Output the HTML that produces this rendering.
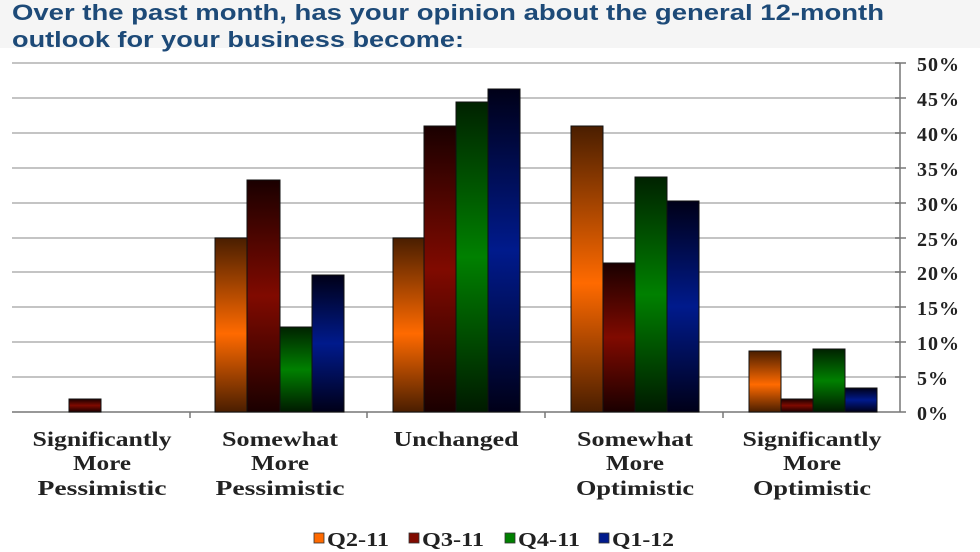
<!DOCTYPE html>
<html><head><meta charset="utf-8"><style>
html,body{margin:0;padding:0;background:#fff;}
svg{display:block;}
.t{font-family:"Liberation Sans",Arial,sans-serif;font-weight:bold;font-size:22px;fill:#1d4a78;}
.s{font-family:"Liberation Serif","DejaVu Serif",serif;font-weight:bold;fill:#222;}
</style></head><body>
<svg width="980" height="552" viewBox="0 0 980 552">
<defs>
<linearGradient id="go" x1="0" y1="0" x2="0" y2="1"><stop offset="0" stop-color="#4a1e00"/><stop offset="0.55" stop-color="#ff6a00"/><stop offset="1" stop-color="#4a1e00"/></linearGradient>
<linearGradient id="gr" x1="0" y1="0" x2="0" y2="1"><stop offset="0" stop-color="#1a0000"/><stop offset="0.5" stop-color="#800a00"/><stop offset="1" stop-color="#1a0000"/></linearGradient>
<linearGradient id="gg" x1="0" y1="0" x2="0" y2="1"><stop offset="0" stop-color="#002200"/><stop offset="0.5" stop-color="#008000"/><stop offset="1" stop-color="#001a00"/></linearGradient>
<linearGradient id="gb" x1="0" y1="0" x2="0" y2="1"><stop offset="0" stop-color="#000018"/><stop offset="0.5" stop-color="#001a8c"/><stop offset="1" stop-color="#000018"/></linearGradient>
</defs>
<rect x="0" y="0" width="980" height="48" fill="#f5f5f5"/>
<text class="t" x="12" y="20" textLength="872" lengthAdjust="spacingAndGlyphs">Over the past month, has your opinion about the general 12-month</text>
<text class="t" x="12" y="47" textLength="452" lengthAdjust="spacingAndGlyphs">outlook for your business become:</text>
<g stroke="#c4c4c4" stroke-width="2">
<line x1="12" x2="900" y1="63" y2="63"/><line x1="12" x2="900" y1="98" y2="98"/><line x1="12" x2="900" y1="133" y2="133"/><line x1="12" x2="900" y1="168" y2="168"/><line x1="12" x2="900" y1="203" y2="203"/><line x1="12" x2="900" y1="238" y2="238"/><line x1="12" x2="900" y1="272" y2="272"/><line x1="12" x2="900" y1="307" y2="307"/><line x1="12" x2="900" y1="342" y2="342"/><line x1="12" x2="900" y1="377" y2="377"/>
</g>
<g stroke="#777" stroke-width="1.5">
<line x1="900" x2="900" y1="63" y2="412"/>
<line x1="12" x2="906" y1="412" y2="412"/>
<line x1="895" x2="906" y1="63" y2="63"/><line x1="895" x2="906" y1="98" y2="98"/><line x1="895" x2="906" y1="133" y2="133"/><line x1="895" x2="906" y1="168" y2="168"/><line x1="895" x2="906" y1="203" y2="203"/><line x1="895" x2="906" y1="238" y2="238"/><line x1="895" x2="906" y1="272" y2="272"/><line x1="895" x2="906" y1="307" y2="307"/><line x1="895" x2="906" y1="342" y2="342"/><line x1="895" x2="906" y1="377" y2="377"/>
<line x1="190" x2="190" y1="412" y2="418"/><line x1="367" x2="367" y1="412" y2="418"/><line x1="545" x2="545" y1="412" y2="418"/><line x1="723" x2="723" y1="412" y2="418"/>
</g>
<g stroke="#111" stroke-width="1">
<rect x="69" y="399" width="32" height="13" fill="url(#gr)"/>
<rect x="215" y="238" width="32" height="174" fill="url(#go)"/>
<rect x="247" y="180" width="33" height="232" fill="url(#gr)"/>
<rect x="280" y="327" width="32" height="85" fill="url(#gg)"/>
<rect x="312" y="275" width="32" height="137" fill="url(#gb)"/>
<rect x="393" y="238" width="31" height="174" fill="url(#go)"/>
<rect x="424" y="126" width="32" height="286" fill="url(#gr)"/>
<rect x="456" y="102" width="32" height="310" fill="url(#gg)"/>
<rect x="488" y="89" width="32" height="323" fill="url(#gb)"/>
<rect x="571" y="126" width="32" height="286" fill="url(#go)"/>
<rect x="603" y="263" width="32" height="149" fill="url(#gr)"/>
<rect x="635" y="177" width="32" height="235" fill="url(#gg)"/>
<rect x="667" y="201" width="32" height="211" fill="url(#gb)"/>
<rect x="749" y="351" width="32" height="61" fill="url(#go)"/>
<rect x="781" y="399" width="32" height="13" fill="url(#gr)"/>
<rect x="813" y="349" width="32" height="63" fill="url(#gg)"/>
<rect x="845" y="388" width="32" height="24" fill="url(#gb)"/>
</g>
<g class="s" font-size="20" text-anchor="start" letter-spacing="1">
<text x="917" y="71">50%</text><text x="917" y="106">45%</text><text x="917" y="141">40%</text><text x="917" y="176">35%</text><text x="917" y="211">30%</text><text x="917" y="246">25%</text><text x="917" y="280">20%</text><text x="917" y="315">15%</text><text x="917" y="350">10%</text><text x="917" y="385">5%</text><text x="917" y="420">0%</text>
</g>
<g class="s" font-size="21" text-anchor="middle" lengthAdjust="spacingAndGlyphs">
<text x="102" y="446" textLength="139" lengthAdjust="spacingAndGlyphs">Significantly</text><text x="102" y="470" textLength="58" lengthAdjust="spacingAndGlyphs">More</text><text x="102" y="495" textLength="129" lengthAdjust="spacingAndGlyphs">Pessimistic</text>
<text x="280" y="446" textLength="116" lengthAdjust="spacingAndGlyphs">Somewhat</text><text x="280" y="470" textLength="58" lengthAdjust="spacingAndGlyphs">More</text><text x="280" y="495" textLength="129" lengthAdjust="spacingAndGlyphs">Pessimistic</text>
<text x="456" y="446" textLength="125" lengthAdjust="spacingAndGlyphs">Unchanged</text>
<text x="635" y="446" textLength="116" lengthAdjust="spacingAndGlyphs">Somewhat</text><text x="635" y="470" textLength="58" lengthAdjust="spacingAndGlyphs">More</text><text x="635" y="495" textLength="118" lengthAdjust="spacingAndGlyphs">Optimistic</text>
<text x="812" y="446" textLength="139" lengthAdjust="spacingAndGlyphs">Significantly</text><text x="812" y="470" textLength="58" lengthAdjust="spacingAndGlyphs">More</text><text x="812" y="495" textLength="118" lengthAdjust="spacingAndGlyphs">Optimistic</text>
</g>
<g stroke="#333" stroke-width="0.8">
<rect x="314" y="533" width="10" height="10" fill="#ff6a00"/>
<rect x="409" y="533" width="10" height="10" fill="#800a00"/>
<rect x="505" y="533" width="10" height="10" fill="#008000"/>
<rect x="599" y="533" width="10" height="10" fill="#001a8c"/>
</g>
<g class="s" font-size="20">
<text x="327" y="546" textLength="62" lengthAdjust="spacingAndGlyphs">Q2-11</text><text x="422" y="546" textLength="62" lengthAdjust="spacingAndGlyphs">Q3-11</text><text x="518" y="546" textLength="62" lengthAdjust="spacingAndGlyphs">Q4-11</text><text x="612" y="546" textLength="62" lengthAdjust="spacingAndGlyphs">Q1-12</text>
</g>
</svg>
</body></html>
